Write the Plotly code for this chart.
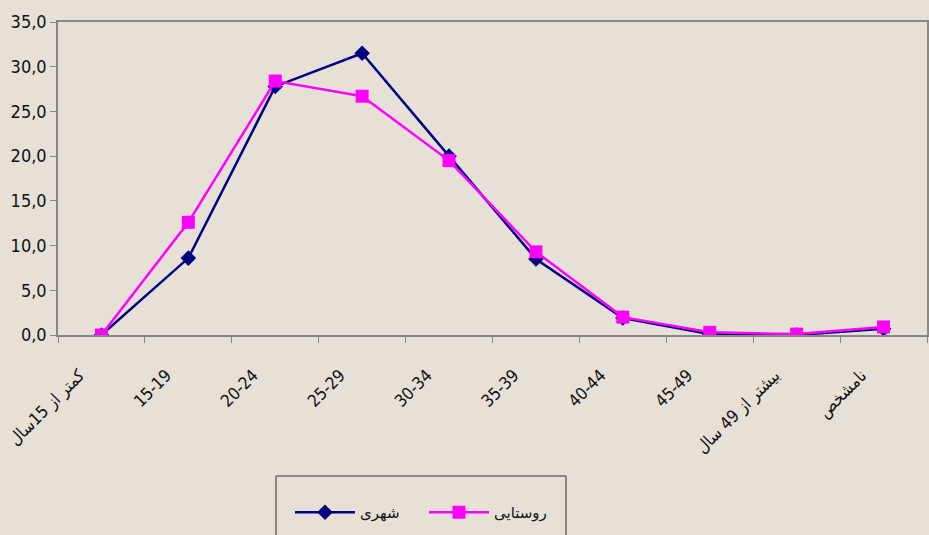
import plotly.graph_objects as go

categories = ["کمتر از 15سال", "15-19", "20-24", "25-29", "30-34", "35-39",
              "40-44", "45-49", "بیشتر از 49 سال", "نامشخص"]
urban = [0.0, 8.6, 27.8, 31.5, 20.0, 8.5, 1.9, 0.1, 0.0, 0.7]
rural = [0.0, 12.6, 28.4, 26.7, 19.5, 9.3, 2.0, 0.3, 0.1, 0.9]
urban_name = "شهری"
rural_name = "روستایی"
y_ticks = [0, 5, 10, 15, 20, 25, 30, 35]

BG = "#E6E0D6"
FONT = "Liberation Sans Narrow, Arial Narrow, DejaVu Sans Condensed, sans-serif"

fig = go.Figure()
fig.add_trace(go.Scatter(
    x=categories, y=urban, name=urban_name, mode="lines+markers",
    line=dict(color="#000080", width=2.5),
    marker=dict(symbol="diamond", size=12, color="#000080"),
))
fig.add_trace(go.Scatter(
    x=categories, y=rural, name=rural_name, mode="lines+markers",
    line=dict(color="#FF00FF", width=2.5),
    marker=dict(symbol="square", size=13, color="#FF00FF"),
))

W, H = 929, 535
ml, mr, mt, mb = 58, 2, 22, 200
pw, ph = W - ml - mr, H - mt - mb

def px_x(p):
    return (p - ml) / pw

def px_y(p):
    return (H - mb - p) / ph

fig.add_shape(type="rect", xref="paper", yref="paper",
              x0=px_x(276), x1=px_x(566), y0=px_y(560), y1=px_y(476),
              line=dict(color="#333333", width=1), fillcolor=BG, layer="below")

fig.update_layout(
    width=W, height=H,
    margin=dict(l=ml, r=mr, t=mt, b=mb, pad=0, autoexpand=False),
    paper_bgcolor=BG, plot_bgcolor=BG,
    separators=",.",
    font=dict(family=FONT, size=17, color="#111111"),
    showlegend=True,
    legend=dict(orientation="h", x=px_x(290), y=px_y(496), xanchor="left", yanchor="top",
                bgcolor="rgba(0,0,0,0)", borderwidth=0, itemwidth=60,
                font=dict(family="DejaVu Sans, sans-serif", size=15, color="#111111"),
                entrywidth=59),
    xaxis=dict(type="category", tickson="boundaries", ticks="outside", ticklen=6,
               tickcolor="#888888", showline=True, linecolor="#888888", linewidth=1.5,
               mirror=True, showgrid=False, tickangle=-45, ticklabelstandoff=22,
               ticklabelshift=-22, automargin=False,
               range=[-0.5, 9.5], tickfont=dict(size=17)),
    yaxis=dict(range=[0, 35], tickvals=y_ticks, tickformat=".1f", ticks="outside",
               ticklen=6, tickcolor="#888888", showline=True, linecolor="#888888",
               linewidth=1.5, mirror=True, showgrid=False, zeroline=False,
               automargin=False, tickfont=dict(size=18)),
)

fig.write_html("out.html", config={"displayModeBar": False},
               post_script="document.body.style.margin='0';document.body.style.background='" + BG + "';")
